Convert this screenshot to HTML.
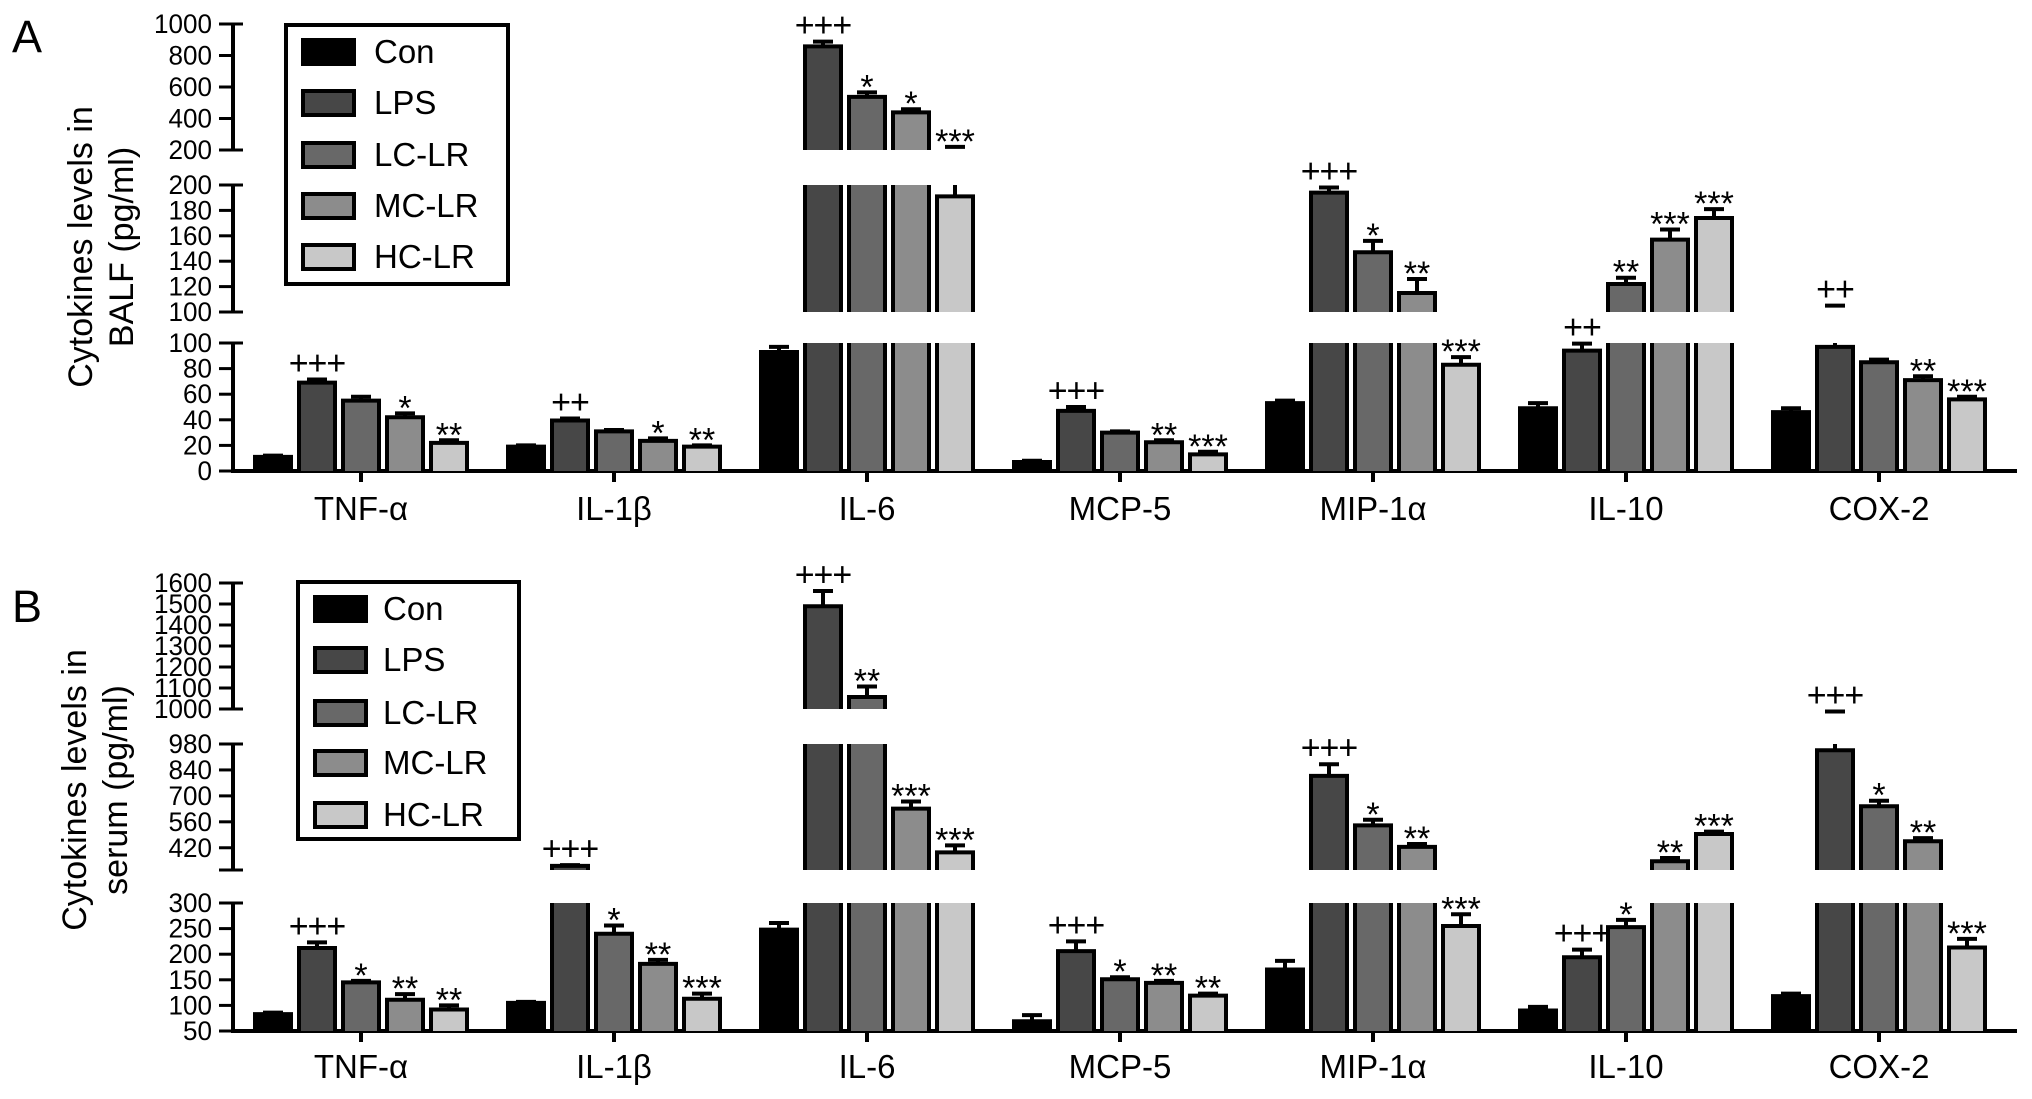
<!DOCTYPE html>
<html><head><meta charset="utf-8"><style>
html,body{margin:0;padding:0;background:#fff;}
svg{display:block;font-family:"Liberation Sans",Arial,sans-serif;}
</style></head><body>
<svg id="chart" width="2032" height="1099" viewBox="0 0 2032 1099" xmlns="http://www.w3.org/2000/svg">
<text x="12" y="52" font-size="45">A</text>
<text x="12" y="622" font-size="45">B</text>
<g transform="translate(92,247) rotate(-90)">
<text x="0" y="0" text-anchor="middle" font-size="34">Cytokines levels in</text>
<text x="0" y="41" text-anchor="middle" font-size="34">BALF (pg/ml)</text>
</g>
<g transform="translate(86,790) rotate(-90)">
<text x="0" y="0" text-anchor="middle" font-size="34">Cytokines levels in</text>
<text x="0" y="41" text-anchor="middle" font-size="34">serum (pg/ml)</text>
</g>
<g id="gA"></g>
<g id="gB"></g>
</svg>
<script>
const categories = ["TNF-\u03b1","IL-1\u03b2","IL-6","MCP-5","MIP-1\u03b1","IL-10","COX-2"];
const groups = ["Con","LPS","LC-LR","MC-LR","HC-LR"];
const groupColors = ["#000000","#474747","#686868","#8c8c8c","#c8c8c8"];
// Panel A (BALF) values [category][group]
const valuesA = [
 [11,69,55,42,22],[19,39.5,31,23.5,19],[93,858,537,439,191],[7,47,30,22.5,13],
 [53,194,147,115,83],[49,94,122,157,174],[46,97,85,71,56]];
const errTopA = [
 [12,71.5,58,45,24],[20,41,32,25.5,20],[97,888,566,459,220],[8,50,31,24,15],
 [55,198,156,126,89],[53,99.5,127,165,181],[49,105,87,74,58]];
const annotA = [
 ["","+++","","*","**"],["","++","","*","**"],["","+++","*","*","***"],["","+++","","**","***"],
 ["","+++","*","**","***"],["","++","**","***","***"],["","++","","**","***"]];
// Panel B (serum) values
const valuesB = [
 [83,212,145,111,92],[105,322,240,181,113],[248,1489,1057,631,395],[69,206,151,144,119],
 [170,808,541,425,255],[90,194,253,347,494],[118,946,644,455,213]];
const errTopB = [
 [86,223,148,122,100],[107,326,256,189,123],[261,1562,1107,670,433],[81,225,155,148,123],
 [187,871,571,440,278],[97,209,267,365,507],[123,988,674,472,230]];
const annotB = [
 ["","+++","*","**","**"],["","+++","*","**","***"],["","+++","**","***","***"],["","+++","*","**","**"],
 ["","+++","*","**","***"],["","+++","*","**","***"],["","+++","*","**","***"]];
const ticksA = [[0,20,40,60,80,100],[100,120,140,160,180,200],[200,400,600,800,1000]];
const ticksB = [[50,100,150,200,250,300],[300,420,560,700,840,980],[1000,1100,1200,1300,1400,1500,1600]];
const tickLabelsB2 = ["","420","560","700","840","980"];

const NS="http://www.w3.org/2000/svg";
function mk(parent,tag,attrs){const e=document.createElementNS(NS,tag);for(const k in attrs)e.setAttribute(k,attrs[k]);parent.appendChild(e);return e;}

function drawPanel(g, segs, vals, errs, annots, ticks, tickLabelOverride, baseY, legend, catLabelY, isB){
  const axX=233, xEnd=2017, catX0=361, catStep=253, barStep=44, barW=36;
  const yOf=(s,v)=>s.y0+(v-s.lo)/(s.hi-s.lo)*(s.y1-s.y0);
  const segOf=v=>{for(let i=0;i<segs.length;i++){if(v<=segs[i].hi)return segs[i];}return segs[segs.length-1];};
  segs.forEach((s,si)=>{
    const l=mk(g,'line',{x1:axX,x2:axX,y1:s.y0,y2:s.y1,stroke:'#000','stroke-width':4});
    
    
    ticks[si].forEach((t,ti)=>{
      const y=yOf(s,t);
      const end=(ti===0||ti===ticks[si].length-1);
      const tk=mk(g,'line',{x1:219,x2:end?243:axX,y1:y,y2:y,stroke:'#000','stroke-width':3});
      
      
      let lab=String(t);
      if(tickLabelOverride && si===1) lab=tickLabelOverride[ti];
      if(lab!==""){
        const tx=mk(g,'text',{x:212,y:y+9,'text-anchor':'end','font-size':27,textLength:lab.length*14.5,lengthAdjust:'spacingAndGlyphs'});
        tx.textContent=lab;
        
        
      }
    });
  });
  const xa=mk(g,'line',{x1:axX-2,x2:xEnd,y1:baseY,y2:baseY,stroke:'#000','stroke-width':4});
  
  
  categories.forEach((c,ci)=>{
    const cx=catX0+ci*catStep;
    const tk=mk(g,'line',{x1:cx,x2:cx,y1:baseY,y2:baseY+11,stroke:'#000','stroke-width':4});
    
    
    const tl=mk(g,'text',{x:cx,y:catLabelY,'text-anchor':'middle','font-size':33});
    tl.textContent=c;
    
    
    groups.forEach((gname,gi)=>{
      const v=vals[ci][gi], e=errs[ci][gi];
      const bx=cx+(gi-2)*barStep;
      const x0=bx-barW/2, x1=bx+barW/2;
      const bg=mk(g,'g',{});
      
      
      segs.forEach((s,si)=>{
        if(si>0 && v<=s.lo) return;
        const top=Math.min(v,s.hi), bot=s.lo;
        const yt=yOf(s,top), yb=yOf(s,bot);
        mk(bg,'rect',{x:x0,y:yt,width:barW,height:yb-yt,fill:groupColors[gi]});
        mk(bg,'line',{x1:x0,x2:x0,y1:yt,y2:yb,stroke:'#000','stroke-width':4});
        mk(bg,'line',{x1:x1,x2:x1,y1:yt,y2:yb,stroke:'#000','stroke-width':4});
        if(v<=s.hi) mk(bg,'line',{x1:x0-2,x2:x1+2,y1:yt,y2:yt,stroke:'#000','stroke-width':4});
      });
      const sv=segOf(v), se=segOf(e);
      const ylineTop = (sv===se)? yOf(sv,e) : yOf(sv,sv.hi);
      const yv=yOf(sv,v);
      const eb=mk(g,'line',{x1:bx,x2:bx,y1:yv,y2:ylineTop,stroke:'#000','stroke-width':4});
      
      
      const ye=yOf(se,e);
      const cap=mk(g,'line',{x1:bx-10,x2:bx+10,y1:ye,y2:ye,stroke:'#000','stroke-width':4});
      
      
      const a=annots[ci][gi];
      if(a){
        const isPlus=a[0]==='+';
        const at=mk(g,'text',{x:bx,y:isPlus?ye-5:ye+6,'text-anchor':'middle','font-size':isPlus?34:34});
        if(isPlus) at.setAttribute('letter-spacing','-1');
        at.textContent=a;
        
        
      }
    });
  });
  const lg=mk(g,'g',{});
  
  
  mk(lg,'rect',{x:legend.x,y:legend.y,width:legend.w,height:legend.h,fill:'#fff',stroke:'#000','stroke-width':4});
  groups.forEach((gname,gi)=>{
    const cy=legend.rows[gi];
    const sw=mk(lg,'rect',{x:legend.sx,y:cy-12,width:51,height:24,fill:groupColors[gi],stroke:'#000','stroke-width':4});
    
    
    const tx=mk(lg,'text',{x:legend.tx,y:cy+11,'font-size':33});
    tx.textContent=gname;
    
    
  });
}
const segsA=[{lo:0,hi:100,y0:471,y1:343},{lo:100,hi:200,y0:312,y1:185},{lo:200,hi:1000,y0:150,y1:24}];
const segsB=[{lo:50,hi:300,y0:1031,y1:903},{lo:300,hi:980,y0:870,y1:744},{lo:1000,hi:1600,y0:709,y1:583}];
drawPanel(document.getElementById('gA'),segsA,valuesA,errTopA,annotA,ticksA,null,471,
  {x:286,y:25,w:222,h:259,sx:303,tx:374,rows:[52,103,155,206,257]},520,false);
drawPanel(document.getElementById('gB'),segsB,valuesB,errTopB,annotB,ticksB,tickLabelsB2,1031,
  {x:298,y:582,w:221,h:257,sx:315,tx:383,rows:[609,660,713,763,815]},1078,true);
</script>
</body></html>
